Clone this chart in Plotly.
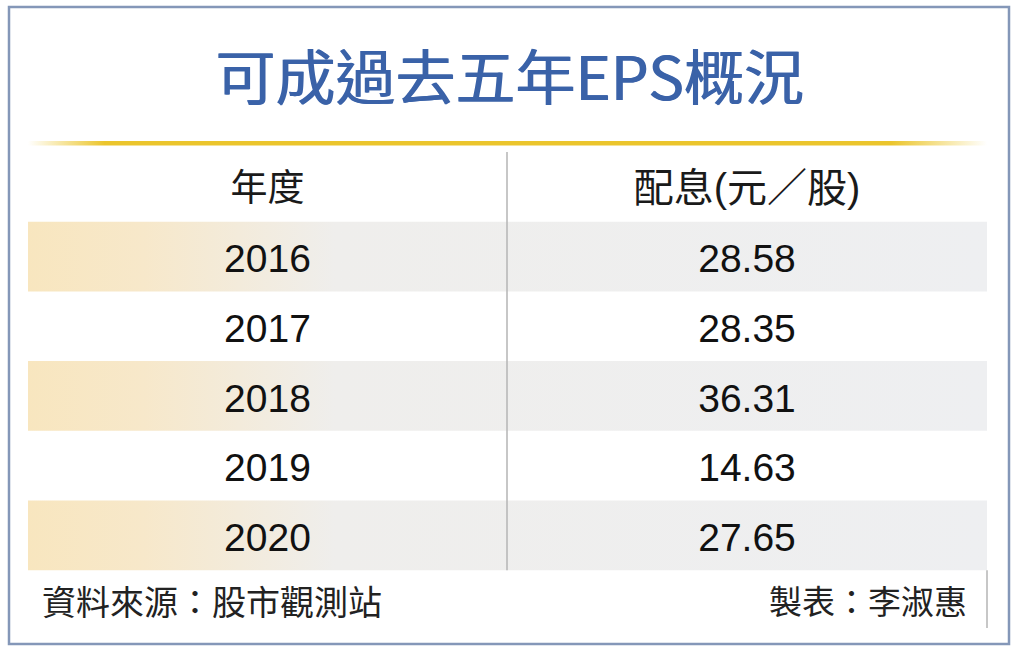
import plotly.graph_objects as go

# table content
title = "可成過去五年EPS概況"
headers = ["年度", "配息(元／股)"]
years = ["2016", "2017", "2018", "2019", "2020"]
dividends = [28.58, 28.35, 36.31, 14.63, 27.65]
source = "資料來源：股市觀測站"
author = "製表：李淑惠"

W, H = 1024, 657
left, right, mid = 28, 987, 507
top = 152          # top of header row
row_h = 69.7
col_x = [(left + mid) / 2, (mid + right) / 2]

font_num = "Liberation Sans, Arial, Noto Sans CJK TC, sans-serif"
font_cjk = "Noto Sans CJK TC, sans-serif"

fig = go.Figure()

# shaded rows (every other row, gold fading into grey)
for i in range(0, len(years), 2):
    y0 = top + (i + 1) * row_h
    y1 = y0 + row_h
    fig.add_trace(go.Scatter(
        x=[left, right, right, left, left], y=[y0, y0, y1, y1, y0],
        mode="lines", line=dict(width=0), fill="toself",
        fillgradient=dict(type="horizontal", colorscale=[
            [0, "#f8e6bf"], [0.12, "#f7e8ca"], [0.32, "#efeeec"], [1, "#eeeff1"]]),
        hoverinfo="skip", showlegend=False))

# gold rule under the title
fig.add_trace(go.Scatter(
    x=[left, right, right, left, left], y=[141, 141, 145.5, 145.5, 141],
    mode="lines", line=dict(width=0), fill="toself",
    fillgradient=dict(type="horizontal", colorscale=[
        [0, "rgba(236,198,40,0)"], [0.08, "#ebc52c"], [0.9, "#ebc52c"],
        [1, "rgba(236,198,40,0)"]]),
    hoverinfo="skip", showlegend=False))

# header text
fig.add_trace(go.Scatter(
    x=col_x, y=[top + row_h / 2 + 5] * 2, mode="text", text=headers,
    textfont=dict(family=font_num, size=[37, 40], color="#1a1a1a"),
    hoverinfo="skip", showlegend=False))

# body text
row_y = [top + (i + 1.5) * row_h + 6 for i in range(len(years))]
fig.add_trace(go.Scatter(
    x=[col_x[0]] * len(years), y=row_y, mode="text", text=years,
    textfont=dict(family=font_num, size=39, color="#111111"),
    hoverinfo="skip", showlegend=False))
fig.add_trace(go.Scatter(
    x=[col_x[1]] * len(years), y=row_y, mode="text",
    text=[f"{v:.2f}" for v in dividends],
    textfont=dict(family=font_num, size=39, color="#111111"),
    hoverinfo="skip", showlegend=False))

table_bottom = top + (len(years) + 1) * row_h

shapes = [
    # outer frame
    dict(type="rect", xref="x", yref="y", x0=9, x1=1009, y0=7, y1=644,
         line=dict(color="#8497b8", width=2.5), layer="above"),
    # column divider
    dict(type="line", xref="x", yref="y", x0=mid, x1=mid, y0=top, y1=table_bottom,
         line=dict(color="#b4b4b4", width=1.5)),
    # little mark at bottom right
    dict(type="line", xref="x", yref="y", x0=right, x1=right,
         y0=table_bottom, y1=628, line=dict(color="#b4b4b4", width=1.5)),
]

annotations = [
    # slight shadow thickens the regular weight toward the medium look
    dict(x=509, y=73, xref="x", yref="y", text=title, showarrow=False,
         font=dict(family=font_cjk, size=60, color="#3a62a8",
                   shadow="1px 0px 0px #3a62a8")),
    dict(x=40, y=600, xref="x", yref="y", text=source, showarrow=False,
         xanchor="left", font=dict(family=font_cjk, size=34, color="#222222")),
    dict(x=969, y=600, xref="x", yref="y", text=author, showarrow=False,
         xanchor="right", font=dict(family=font_cjk, size=33, color="#222222")),
]

fig.update_layout(
    width=W, height=H, margin=dict(l=0, r=0, t=0, b=0),
    paper_bgcolor="white", plot_bgcolor="white",
    xaxis=dict(range=[0, W], visible=False, fixedrange=True),
    yaxis=dict(range=[H, 0], visible=False, fixedrange=True),
    shapes=shapes, annotations=annotations,
)

fig.write_html("out.html", config={"displayModeBar": False},
               post_script="document.body.style.margin='0';")
